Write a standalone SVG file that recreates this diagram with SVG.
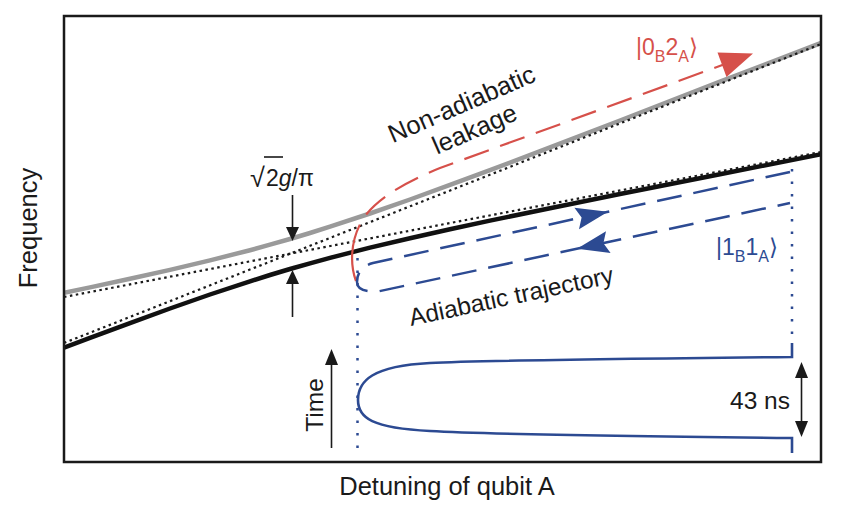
<svg xmlns="http://www.w3.org/2000/svg" width="860" height="508" viewBox="0 0 860 508">
<defs>
<style>
text{font-family:"Liberation Sans",Arial,"DejaVu Sans",sans-serif;fill:#1a1a1a}
.lbl{font-size:24.5px;fill:#1a1a1a}
.ax{font-size:25.5px;fill:#1a1a1a}
.red{fill:#d6504a}
.blue{fill:#2c4a92}
.sub{font-size:16px}
.blk{stroke:#1a1a1a;stroke-width:1.6;fill:none}
.dot{stroke:#1a1a1a;stroke-width:2.2;fill:none;stroke-dasharray:2.5 3.5}
</style>
<clipPath id="box"><rect x="64" y="16" width="757" height="446"/></clipPath>
</defs>
<rect width="860" height="508" fill="#ffffff"/>

<g id="levels" clip-path="url(#box)">
<polyline fill="none" stroke="#9a9a9a" stroke-width="4.5" stroke-linejoin="round" points="60,294 64,292.8 90,287.4 130,278.8 170,269.9 210,260.4 250,250.2 270,244.7 290,239 310,233 330,226.7 370,213.5 410,199.5 450,184.9 490,170.1 550,147.4 620,120.5 720,81.7 825,41.5"/>
<polyline fill="none" stroke="#111" stroke-width="4.5" stroke-linejoin="round" points="60,349 64,347.7 90,337.9 130,323.1 170,308.5 210,294.5 250,281.3 270,275 290,269 310,263.3 330,257.8 370,247.6 410,238.2 450,229.2 490,220.6 550,208.2 620,194 720,174.2 825,153.5"/>
<line class="dot" x1="64" y1="297" x2="821" y2="152"/>
<line class="dot" x1="64" y1="343" x2="821" y2="44"/>
</g>

<g id="frame">
<rect x="64" y="16" width="757" height="446" fill="none" stroke="#1a1a1a" stroke-width="2.5"/>
</g>

<g id="leakage-path">
<path d="M356,281 C349,262 351,236 365,216 C380,196 410,180 440,168 L723,64.8" fill="none" stroke="#d6504a" stroke-width="2.2" stroke-dasharray="58 12 26 12 26 12 26 12 26 12 26 12 26 12 26 12 26 12 26 12 26 12 26 12 26 12 26 12"/>
<polygon points="753,53.5 726.5,77 717.5,52.6" fill="#d6504a"/>
</g>

<g id="adiabatic-path">
<path d="M790,172 L373,263 C362,266 357,273 357,282 C357,289 364,292 378,291.5 L790,203" fill="none" stroke="#2c4a92" stroke-width="2.5" stroke-dasharray="25 12"/>
<polygon points="608,211.7 579,229.3 581.6,217.4 574.4,207.8" fill="#2c4a92"/>
<polygon points="577,248.8 606,231.3 603.4,243.2 610.6,252.9" fill="#2c4a92"/>
<line x1="357.5" y1="258" x2="357.5" y2="456" stroke="#2c4a92" stroke-width="2.5" stroke-dasharray="2.5 10"/>
<line x1="792" y1="169" x2="792" y2="343" stroke="#2c4a92" stroke-width="2.5" stroke-dasharray="2.5 10"/>
</g>

<g id="pulse">
<path d="M792,343 V357 C600,359 470,361 430,363 C372,366 358,381 358,400 C358,418 372,428 430,431 C480,434 600,436 792,438 V453" fill="none" stroke="#2c4a92" stroke-width="2.6"/>
</g>

<g id="gap-arrows">
<line class="blk" x1="292.5" y1="195" x2="292.5" y2="230"/>
<polygon points="292.5,241 286,227 299,227" fill="#1a1a1a"/>
<line class="blk" x1="292.5" y1="280" x2="292.5" y2="317"/>
<polygon points="292.5,270 286,284 299,284" fill="#1a1a1a"/>
</g>

<g id="time-arrow">
<line class="blk" x1="331.5" y1="448" x2="331.5" y2="360"/>
<polygon points="331.5,349 325,365 338,365" fill="#1a1a1a"/>
</g>

<g id="duration-arrow">
<line class="blk" x1="801.5" y1="373" x2="801.5" y2="426"/>
<polygon points="801.5,362 795,378 808,378" fill="#1a1a1a"/>
<polygon points="801.5,437 795,421 808,421" fill="#1a1a1a"/>
</g>

<g id="labels">
<text class="ax" text-anchor="middle" transform="translate(37,228) rotate(-90)">Frequency</text>
<text class="ax" x="447" y="495" text-anchor="middle">Detuning of qubit A</text>
<text class="lbl" fill="#1a1a1a" text-anchor="middle" transform="translate(323,405) rotate(-90)">Time</text>
<text class="lbl" x="730" y="409">43 ns</text>
<text class="lbl" style="font-size:25.5px" text-anchor="middle" transform="translate(465,112) rotate(-23.5)">Non-adiabatic</text>
<text class="lbl" style="font-size:25.5px" text-anchor="middle" transform="translate(478,137) rotate(-23.5)">leakage</text>
<text class="lbl" transform="translate(411,326) rotate(-12)">Adiabatic trajectory</text>
<text class="red" style="font-size:23px" x="636" y="55">|0<tspan class="sub" dy="7">B</tspan><tspan dy="-7">2</tspan><tspan class="sub" dy="7">A</tspan><tspan dy="-7" font-family="DejaVu Sans, sans-serif">⟩</tspan></text>
<text class="blue" style="font-size:23px" x="716" y="255">|1<tspan class="sub" dy="7">B</tspan><tspan dy="-7">1</tspan><tspan class="sub" dy="7">A</tspan><tspan dy="-7" font-family="DejaVu Sans, sans-serif">⟩</tspan></text>
<text style="font-size:27px" x="250" y="187">√</text>
<line x1="264" y1="157" x2="283" y2="157" stroke="#1a1a1a" stroke-width="1.6"/>
<text style="font-size:23px" x="266" y="186">2<tspan font-style="italic">g</tspan>/π</text>
</g>
</svg>
